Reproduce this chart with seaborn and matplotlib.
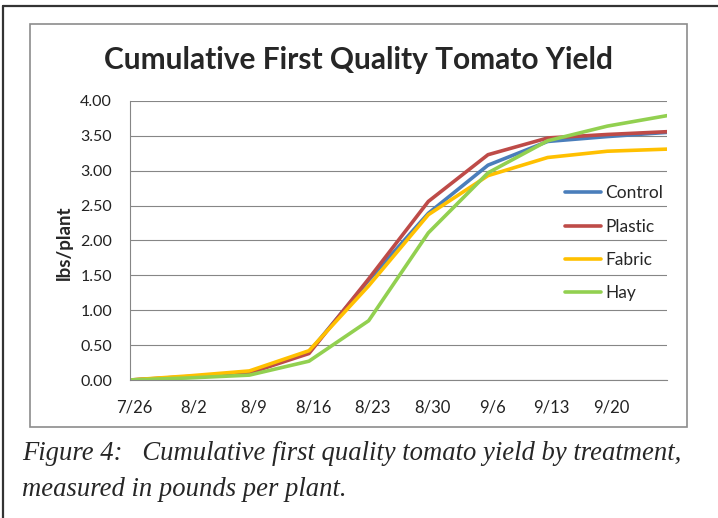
import numpy as np
import pandas as pd
import matplotlib
matplotlib.use("Agg")
import matplotlib.pyplot as plt
import matplotlib.transforms as mtransforms
import seaborn as sns
from matplotlib.lines import Line2D
from matplotlib.patches import Rectangle


# ============================================================
# Данные
# ============================================================

dates = ["7/26", "8/2", "8/9", "8/16", "8/23", "8/30", "9/6", "9/13", "9/20", "9/27"]
tick_labels = ["7/26", "8/2", "8/9", "8/16", "8/23", "8/30", "9/6", "9/13", "9/20", ""]

control = [0.00, 0.04, 0.10, 0.40, 1.43, 2.39, 3.08, 3.42, 3.49, 3.55]
plastic = [0.00, 0.05, 0.10, 0.38, 1.45, 2.56, 3.23, 3.47, 3.52, 3.56]
fabric = [0.00, 0.06, 0.13, 0.42, 1.35, 2.37, 2.93, 3.19, 3.28, 3.31]
hay = [0.00, 0.03, 0.07, 0.27, 0.85, 2.11, 2.97, 3.43, 3.64, 3.79]

treatments = ["Control", "Plastic", "Fabric", "Hay"]
colors = ["#4A7EBB", "#BE4B48", "#FFC000", "#92D050"]

df = pd.DataFrame({"date": dates, "Control": control, "Plastic": plastic,
                   "Fabric": fabric, "Hay": hay})
long_df = df.melt(id_vars="date", var_name="treatment", value_name="yield")

# ============================================================
# Рисунок
# ============================================================

sns.set_style("white")
plt.rcParams["font.family"] = ["Lato", "DejaVu Sans"]

fig = plt.figure(figsize=(7.18, 5.18), dpi=100)
W, H = 718, 518

ax = fig.add_axes([130 / W, 1 - 380 / H, (667 - 130) / W, (380 - 101) / H])

sns.lineplot(data=long_df, x="date", y="yield", hue="treatment",
             hue_order=treatments, palette=colors, sort=False,
             linewidth=2.6, ax=ax)

ax.set_xlim(0, len(dates) - 1)
ax.set_ylim(0, 4)
ax.set_xticks(range(len(dates)))
ax.set_xticklabels(tick_labels)
ax.set_yticks(np.arange(0, 4.01, 0.5))
ax.set_yticklabels([f"{v:.2f}" for v in np.arange(0, 4.01, 0.5)])
ax.tick_params(axis="both", colors="#222222", length=6, width=0.8,
               direction="out")
ax.tick_params(axis="both", color="#868686")
ax.tick_params(axis="y", labelsize=11.5, pad=7)
ax.tick_params(axis="x", labelsize=12, pad=8)

# подписи дат у Excel немного сдвинуты вправо
shift = mtransforms.ScaledTranslation(4 / 100, 0, fig.dpi_scale_trans)
for lbl in ax.get_xticklabels():
    lbl.set_transform(lbl.get_transform() + shift)

ax.grid(axis="y", color="#868686", linewidth=0.8)
ax.set_axisbelow(True)
for side in ["top", "right"]:
    ax.spines[side].set_visible(False)
for side in ["left", "bottom"]:
    ax.spines[side].set_color("#868686")
    ax.spines[side].set_linewidth(0.8)

ax.set_xlabel("")
ax.set_ylabel("lbs/plant", fontsize=13.5, fontweight="bold")
ax.yaxis.set_label_coords((73 - 130) / 537, 0.493)

leg = ax.legend(loc="center left", bbox_to_anchor=(0.81, 0.49), frameon=False,
                fontsize=12.5, handlelength=2.07, handletextpad=0.25,
                labelspacing=1.0, borderpad=0, borderaxespad=0)
for line in leg.get_lines():
    line.set_linewidth(2.6)

fig.text(359 / W, 1 - 60 / H, "Cumulative First Quality Tomato Yield",
         ha="center", va="center", fontsize=21.5, fontweight="bold")

# рамки
fig.add_artist(Rectangle((30 / W, 1 - 427 / H), (687 - 30) / W, (427 - 23.5) / H,
                         transform=fig.transFigure, fill=False,
                         edgecolor="#8c8c8c", linewidth=1.2))
fig.add_artist(Line2D([3 / W, 1], [1 - 5.5 / H, 1 - 5.5 / H],
                      transform=fig.transFigure, color="#333333", linewidth=1.6))
fig.add_artist(Line2D([3 / W, 3 / W], [0, 1 - 5.5 / H],
                      transform=fig.transFigure, color="#333333", linewidth=1.6))

# подпись
cap_font = dict(family="Liberation Serif", style="italic", fontsize=19.2)
fig.text(22 / W, 1 - 453 / H,
         "Figure 4:   Cumulative first quality tomato yield by treatment,",
         ha="left", va="center", **cap_font)
fig.text(22 / W, 1 - 490 / H, "measured in pounds per plant.",
         ha="left", va="center", **cap_font)

fig.savefig("out.png", dpi=100)
